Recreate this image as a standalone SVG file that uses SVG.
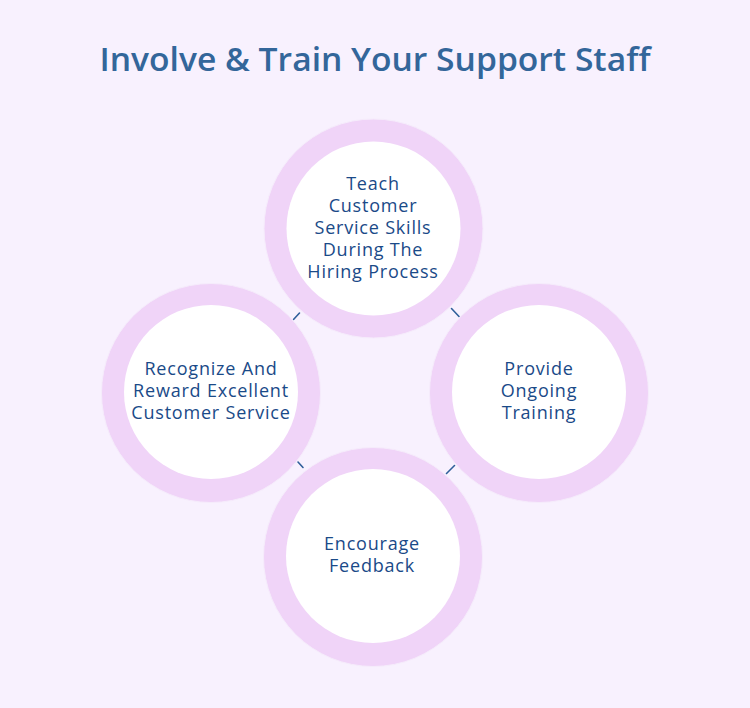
<svg xmlns="http://www.w3.org/2000/svg" width="750" height="708" viewBox="0 0 750 708">
<style>
.ring{fill:#f0d4f8;stroke:#f6ecfc;stroke-width:1}
.inner{fill:#ffffff}
.lbl{font-family:"Open Sans","Liberation Sans",sans-serif;font-size:18px;font-weight:500;letter-spacing:0.8px;fill:#1a4a88;text-anchor:middle}
.title{font-family:"Open Sans","Liberation Sans",sans-serif;font-size:33px;font-weight:600;fill:#33669a;text-anchor:middle}
.conn line{stroke:#2f5f9a;stroke-width:1.6;stroke-linecap:round}
</style>
<rect width="750" height="708" fill="#f8f1fe"/>
<text class="title" x="375" y="71" textLength="551" lengthAdjust="spacingAndGlyphs">Involve &amp; Train Your Support Staff</text>
<g id="connectors" class="conn">
<line x1="293.5" y1="319.5" x2="299.5" y2="313"/>
<line x1="451.5" y1="308.5" x2="459" y2="316.5"/>
<line x1="298" y1="462" x2="303" y2="467.5"/>
<line x1="446.5" y1="473.5" x2="454.5" y2="465.5"/>
</g>
<g id="node-top">
<circle class="ring" cx="373.5" cy="228.5" r="109.5"/>
<circle class="inner" cx="373.5" cy="228.5" r="87"/>
<text class="lbl" x="373" y="190">Teach</text>
<text class="lbl" x="373" y="212">Customer</text>
<text class="lbl" x="373" y="234">Service Skills</text>
<text class="lbl" x="373" y="256">During The</text>
<text class="lbl" x="373" y="278">Hiring Process</text>
</g>
<g id="node-left">
<circle class="ring" cx="211" cy="393" r="109.5"/>
<circle class="inner" cx="211" cy="392" r="87"/>
<text class="lbl" x="211" y="375">Recognize And</text>
<text class="lbl" x="211" y="397">Reward Excellent</text>
<text class="lbl" x="211" y="419">Customer Service</text>
</g>
<g id="node-right">
<circle class="ring" cx="539" cy="393" r="109.5"/>
<circle class="inner" cx="539" cy="392" r="87"/>
<text class="lbl" x="539" y="375">Provide</text>
<text class="lbl" x="539" y="397">Ongoing</text>
<text class="lbl" x="539" y="419">Training</text>
</g>
<g id="node-bottom">
<circle class="ring" cx="373" cy="557" r="109.5"/>
<circle class="inner" cx="373" cy="556" r="87"/>
<text class="lbl" x="372" y="550">Encourage</text>
<text class="lbl" x="372" y="572">Feedback</text>
</g>
</svg>
